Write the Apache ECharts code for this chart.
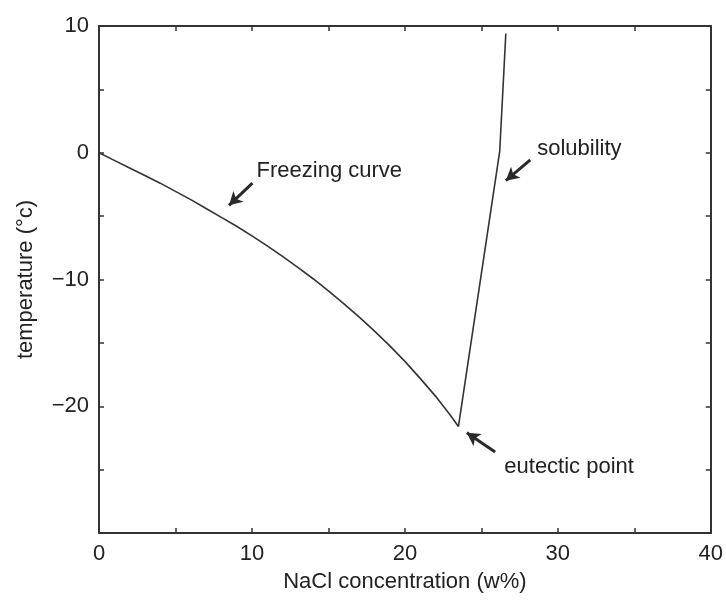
<!DOCTYPE html>
<html><head><meta charset="utf-8">
<script src="https://cdn.jsdelivr.net/npm/echarts@6/dist/echarts.min.js"></script>
<style>html,body{margin:0;padding:0;background:#fff}#c{width:726px;height:600px}</style>
</head><body><div id="c"></div>
<script>
// Freezing curve (NaCl concentration w%, temperature °C)
const freezeX = [0, 1, 2, 3, 4, 5, 6, 7, 8, 9, 10, 11, 12, 13, 14, 15, 16, 17, 18, 19, 20, 21, 22, 23, 23.5];
const freezeY = [0, -0.6, -1.2, -1.8, -2.4, -3.05, -3.7, -4.4, -5.1, -5.8, -6.56, -7.35, -8.18, -9.04, -9.94, -10.9, -11.9, -12.95, -14.05, -15.22, -16.46, -17.8, -19.2, -20.75, -21.6];
// Solubility line
const solX = [23.5, 26.2, 26.6];
const solY = [-21.6, 0.1, 9.4];
// Annotations: text, text anchor [x,y], arrow start [x,y], arrow tip [x,y]
const annText = ['Freezing curve', 'solubility', 'eutectic point'];
const annTextPos = [[10.3, -1.45], [28.65, 0.3], [26.5, -24.8]];
const annFrom = [[10.03, -2.4], [28.2, -0.57], [25.9, -23.6]];
const annTo = [[8.5, -4.15], [26.6, -2.2], [24.05, -22.1]];
const xTicks = [0, 10, 20, 30, 40];
const yTicks = [-20, -10, 0, 10];

const FONT = 'Liberation Sans, Arial, sans-serif';
const TXT = '#222';
const LINE = '#333';
const FS = 22;
const fmtY = v => yTicks.includes(v) ? (v < 0 ? '\u2212' + Math.abs(v) : String(v)) : '';
const fmtX = v => xTicks.includes(v) ? String(v) : '';

function axisBase(showLabel, fmt) {
  return {
    axisLine: { show: true, onZero: false, lineStyle: { color: LINE, width: 2 } },
    axisTick: { show: true, inside: true, length: 5, lineStyle: { color: LINE, width: 1.5 } },
    axisLabel: { show: showLabel, formatter: fmt, color: TXT, fontSize: FS, fontFamily: FONT, margin: 10 },
    splitLine: { show: false }
  };
}

const chart = echarts.init(document.getElementById('c'), null, { renderer: 'canvas' });
const arrowData = annFrom.map((f, i) => [{ coord: f }, { coord: annTo[i] }]);
const textData = annText.map((t, i) => ({ coord: annTextPos[i], value: t }));

chart.setOption({
  animation: false,
  backgroundColor: '#fff',
  grid: { left: 99, right: 13, top: 26, bottom: 67 },
  xAxis: [
    Object.assign({ type: 'value', min: 0, max: 40, interval: 5, position: 'bottom',
      name: 'NaCl concentration (w%)', nameLocation: 'middle', nameGap: 38,
      nameTextStyle: { color: TXT, fontSize: FS, fontFamily: FONT } }, axisBase(true, fmtX)),
    Object.assign({ type: 'value', min: 0, max: 40, interval: 5, position: 'top' }, axisBase(false, fmtX))
  ],
  yAxis: [
    Object.assign({ type: 'value', min: -30, max: 10, interval: 5, position: 'left',
      name: 'temperature (\u00b0c)', nameLocation: 'middle', nameGap: 62, nameRotate: 90,
      nameTextStyle: { color: TXT, fontSize: FS, fontFamily: FONT } }, axisBase(true, fmtY)),
    Object.assign({ type: 'value', min: -30, max: 10, interval: 5, position: 'right' }, axisBase(false, fmtY))
  ],
  series: [
    {
      type: 'line', xAxisIndex: 0, yAxisIndex: 0,
      data: freezeX.map((x, i) => [x, freezeY[i]]),
      showSymbol: false, smooth: false,
      lineStyle: { color: LINE, width: 1.6 },
      markLine: {
        silent: true, symbol: ['none', 'arrow'], symbolSize: [11, 13],
        label: { show: false },
        lineStyle: { color: '#2a2a2a', width: 3, type: 'solid' },
        data: arrowData
      },
      markPoint: {
        silent: true, symbol: 'circle', symbolSize: 0,
        label: { show: true, position: 'right', distance: 0, formatter: p => p.data.value,
          color: TXT, fontSize: FS, fontFamily: FONT },
        data: textData
      }
    },
    {
      type: 'line', xAxisIndex: 0, yAxisIndex: 0,
      data: solX.map((x, i) => [x, solY[i]]),
      showSymbol: false,
      lineStyle: { color: LINE, width: 1.6 }
    }
  ]
});
</script></body></html>
